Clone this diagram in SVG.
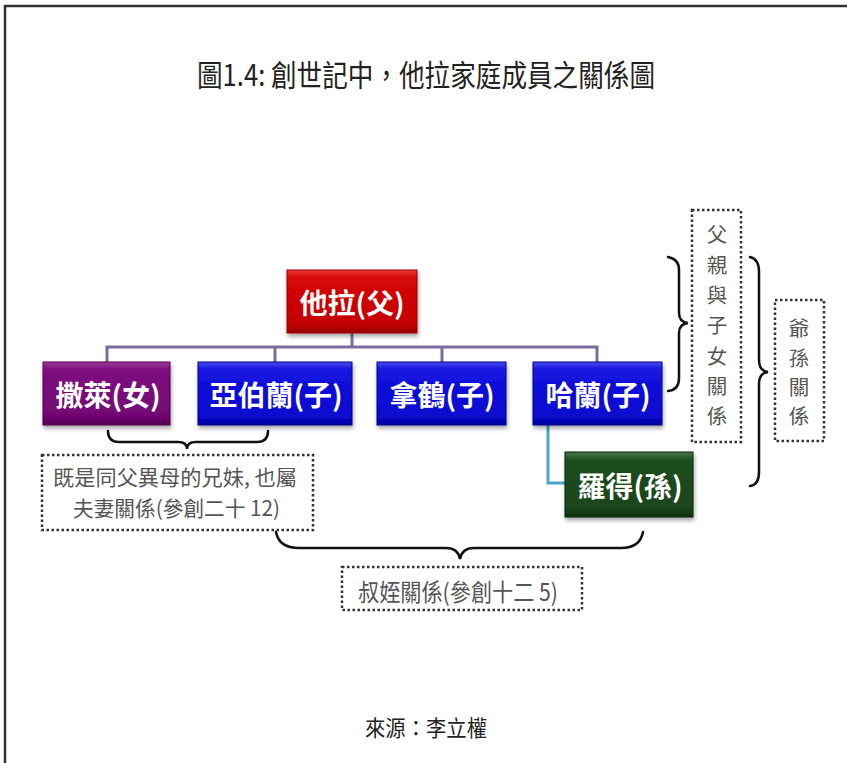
<svg xmlns="http://www.w3.org/2000/svg" width="847" height="763" viewBox="0 0 847 763">
<defs>
<linearGradient id="gRed" x1="0" y1="0" x2="0" y2="1">
<stop offset="0" stop-color="#e83a3a"/><stop offset="0.12" stop-color="#d80808"/><stop offset="0.85" stop-color="#c40000"/><stop offset="1" stop-color="#980000"/>
</linearGradient>
<linearGradient id="gPur" x1="0" y1="0" x2="0" y2="1">
<stop offset="0" stop-color="#9a3a9a"/><stop offset="0.12" stop-color="#7e0f7e"/><stop offset="0.85" stop-color="#730673"/><stop offset="1" stop-color="#520052"/>
</linearGradient>
<linearGradient id="gBlu" x1="0" y1="0" x2="0" y2="1">
<stop offset="0" stop-color="#4a4af0"/><stop offset="0.12" stop-color="#1414e0"/><stop offset="0.85" stop-color="#0a0ad0"/><stop offset="1" stop-color="#0000a0"/>
</linearGradient>
<linearGradient id="gGrn" x1="0" y1="0" x2="0" y2="1">
<stop offset="0" stop-color="#4a7a4a"/><stop offset="0.12" stop-color="#1f4e1f"/><stop offset="0.85" stop-color="#1a451a"/><stop offset="1" stop-color="#0e300e"/>
</linearGradient>
<filter id="sh" x="-10%" y="-10%" width="130%" height="140%">
<feDropShadow dx="1" dy="3" stdDeviation="2" flood-color="#000" flood-opacity="0.35"/>
</filter>
</defs>
<style>
.box{filter:url(#sh);stroke-width:1}
.lbl{font-family:"Noto Sans CJK TC","Noto Sans CJK SC",sans-serif;font-weight:bold;font-size:28px;fill:#fff;text-anchor:middle;dominant-baseline:central}
.note{font-family:"Noto Sans CJK TC","Noto Sans CJK SC",serif;font-size:24px;fill:#555}
.note2{font-family:"Noto Sans CJK TC","Noto Sans CJK SC",serif;font-size:21px;fill:#555}
.vt{font-family:"Noto Sans CJK TC","Noto Sans CJK SC",serif;font-size:20.5px;fill:#555;text-anchor:middle;dominant-baseline:central}
.dot{fill:none;stroke:#333;stroke-width:2.5;stroke-dasharray:2.5 2.5}
.brace{fill:none;stroke:#111;stroke-width:2.5;stroke-linecap:round}
.conn{fill:none;stroke:#7b6c9c;stroke-width:3}
.conn2{fill:none;stroke:#4aa6c2;stroke-width:3}
</style>
<rect width="847" height="763" fill="#fff"/>
<path d="M5,763 V6 H847" fill="none" stroke="#333" stroke-width="2.5"/>
<text x="197" y="86" textLength="458" lengthAdjust="spacingAndGlyphs" font-family="Noto Sans CJK TC, Noto Sans CJK SC, sans-serif" font-size="30" fill="#222">圖1.4: 創世記中，他拉家庭成員之關係圖</text>

<g id="connectors">
<path class="conn" d="M352,333 V347 M107,362 V347 H597 V362 M275,347 V362 M442,347 V362"/>
<path class="conn2" d="M548,425 V483 H566"/>
</g>

<g id="terah"><rect class="box" x="287" y="270" width="130" height="63" fill="url(#gRed)" stroke="#900"/><text class="lbl" x="352" y="302">他拉(父)</text></g>
<g id="sarai"><rect class="box" x="43" y="362" width="127" height="63" fill="url(#gPur)" stroke="#500050"/><text class="lbl" x="108" y="394">撒萊(女)</text></g>
<g id="abram"><rect class="box" x="198" y="362" width="154" height="63" fill="url(#gBlu)" stroke="#000090"/><text class="lbl" x="276" y="394">亞伯蘭(子)</text></g>
<g id="nahor"><rect class="box" x="377" y="362" width="129" height="63" fill="url(#gBlu)" stroke="#000090"/><text class="lbl" x="442" y="394">拿鶴(子)</text></g>
<g id="haran"><rect class="box" x="533" y="362" width="129" height="63" fill="url(#gBlu)" stroke="#000090"/><text class="lbl" x="598" y="394">哈蘭(子)</text></g>
<g id="lot"><rect class="box" x="565" y="452" width="128" height="65" fill="url(#gGrn)" stroke="#0a250a"/><text class="lbl" x="630" y="485">羅得(孫)</text></g>

<g id="brace-siblings">
<path class="brace" d="M108,431 Q108,442 119,442 L178,442 Q187,442 187,449 Q187,442 196,442 L257,442 Q268,442 268,431"/>
</g>
<g id="note-siblings">
<rect class="dot" x="42" y="455" width="271" height="75"/>
<text class="note2" x="53" y="485" textLength="244" lengthAdjust="spacingAndGlyphs">既是同父異母的兄妹, 也屬</text>
<text class="note2" x="73" y="516" textLength="207" lengthAdjust="spacingAndGlyphs">夫妻關係(參創二十 12)</text>
</g>

<g id="brace-uncle">
<path class="brace" d="M276,532 Q279,548 299,548 L446,548 Q458,548 460,559 Q462,548 474,548 L621,548 Q640,548 643,532"/>
</g>
<g id="note-uncle">
<rect class="dot" x="342" y="567" width="240" height="43"/>
<text class="note" x="358" y="601" textLength="200" lengthAdjust="spacingAndGlyphs">叔姪關係(參創十二 5)</text>
</g>

<g id="brace-father">
<path class="brace" d="M668,257 Q679,259 679,270 L679,313 Q679,322 688,323 Q679,324 679,333 L679,378 Q679,390 668,391"/>
</g>
<g id="note-father">
<rect class="dot" x="692" y="210" width="49" height="232"/>
<text class="vt"><tspan x="717" y="233">父</tspan><tspan x="717" y="263.5">親</tspan><tspan x="717" y="294">與</tspan><tspan x="717" y="324">子</tspan><tspan x="717" y="354.5">女</tspan><tspan x="717" y="385">關</tspan><tspan x="717" y="415">係</tspan></text>
</g>

<g id="brace-grand">
<path class="brace" d="M750,257 Q759,259 759,272 L759,360 Q759,371 768,372 Q759,373 759,384 L759,472 Q759,485 750,486"/>
</g>
<g id="note-grand">
<rect class="dot" x="775" y="300" width="49" height="141"/>
<text class="vt"><tspan x="799" y="327">爺</tspan><tspan x="799" y="357">孫</tspan><tspan x="799" y="386">關</tspan><tspan x="799" y="415">係</tspan></text>
</g>

<text x="365" y="736" textLength="122" lengthAdjust="spacingAndGlyphs" font-family="Noto Sans CJK TC, Noto Sans CJK SC, sans-serif" font-size="22" fill="#222">來源：李立權</text>
</svg>
